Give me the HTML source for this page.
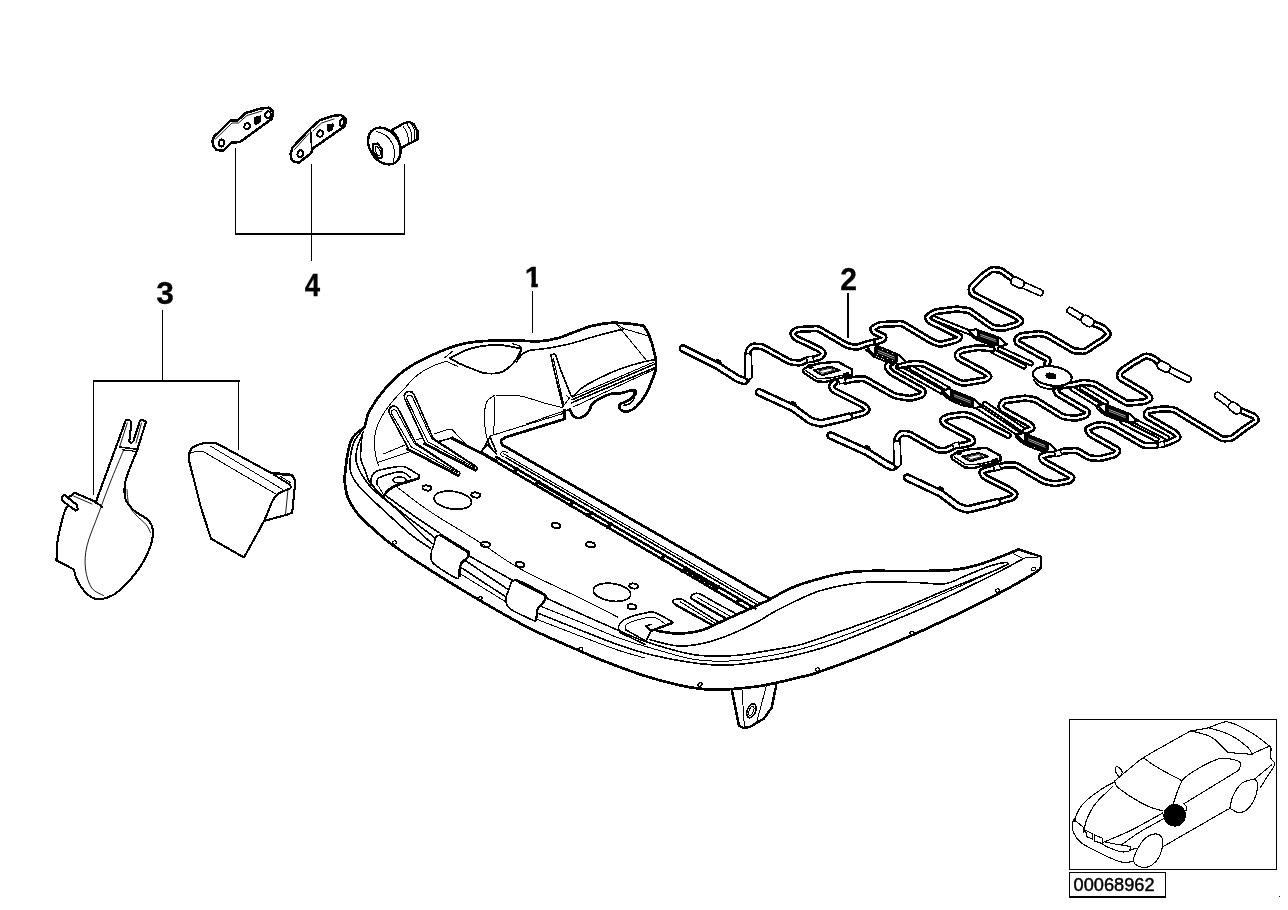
<!DOCTYPE html>
<html lang="en"><head><meta charset="utf-8"><title>Seat frame parts diagram 00068962</title>
<style>
html,body{margin:0;padding:0;background:#fff;}
body{width:1288px;height:910px;overflow:hidden;font-family:"Liberation Sans",Arial,sans-serif;}
svg{display:block;position:absolute;left:0;top:0;filter:grayscale(1);}
svg path,svg ellipse,svg circle,svg rect,svg line{stroke:#000;fill:none;stroke-linejoin:round;stroke-linecap:round;}
svg text{font-family:"Liberation Sans",Arial,sans-serif;}
</style></head><body>
<svg width="1288" height="910" viewBox="0 0 1288 910" shape-rendering="crispEdges">
<rect x="0" y="0" width="1288" height="910" style="fill:#fff;stroke:none"/>
<path d="M344.4 480 C344.8 476.3 345.9 464.3 347 457.6 C348.1 450.9 349.6 444.1 351.3 440 C353 435.9 354.8 435.2 357 433 C359.2 430.8 362.8 429.2 364.4 427 C365.9 424.8 365.4 422.8 366.3 420 C367.2 417.2 367.1 415 370 410 C372.9 405 378.2 396.7 384 390 C389.8 383.3 397.3 375.7 405 370 C412.7 364.3 420.8 360.2 430 356 C439.2 351.8 450.8 347 460 344.5 C469.2 342 475 341.6 485 341 C495 340.4 511 340.6 520 340.7 C529 340.8 532.5 341.7 538.8 341.3 C545.1 340.9 551.3 339.9 557.6 338.2 C563.9 336.5 570.5 333.4 576.4 331.3 C582.2 329.2 586.9 327.1 592.7 325.7 C598.6 324.3 605.2 323.1 611.5 322.8 C617.8 322.5 625 323.3 630.3 323.8 C635.6 324.3 641.2 325.4 643.4 325.7" stroke-width="2.7" style="fill:none"/>
<path d="M643.4 325.7 C644.3 327.2 647.1 330.3 649 335 C650.9 339.7 653.5 348.5 654.7 353.9 C655.9 359.3 656.5 363 656 367.6 C655.5 372.2 653.4 376.8 651.6 381.4 C649.8 386 647.8 391 645.3 395.2 C642.8 399.4 639.4 403.8 636.5 406.5 C633.6 409.2 630.4 410.9 627.8 411.5 C625.2 412.1 622.1 411 620.8 409.8 C619.5 408.6 618.6 406 619.8 404.5 C621 403 625.5 402.2 627.8 400.9 C630.1 399.6 632 398 633.4 396.5 C634.8 395 636.1 393.1 635.9 392 C635.7 390.9 634.8 390 632.2 390.2 C629.6 390.4 624 392.7 620.3 393.3 C616.6 393.9 613.6 393.1 610.2 394 C606.8 394.9 602.9 396.9 600 398.5 C597.1 400.1 594.8 401 592.7 403.4 C590.7 405.8 589.8 410.4 587.7 412.8 C585.6 415.2 582.5 417.2 580.2 417.8 C577.9 418.4 575.6 417.8 573.9 416.5 C572.2 415.2 570.7 411.3 570.1 410.3" stroke-width="2.7" style="fill:none"/>
<path d="M623.5 405.5 C624.6 405.2 628.2 404.8 630 403.5 C631.8 402.2 633.6 399.8 634.3 398 C635 396.2 634 393.8 634 393" stroke-width="1.6" style="fill:none"/>
<path d="M344.4 480 C344.8 482.5 345.9 491 347 495 C348.1 499 348.8 500.4 351 504 C353.2 507.6 355.4 511.5 360 516.5 C364.6 521.5 373.5 529.2 378.9 534 C384.3 538.8 384 539 392.5 545 C401 551 415.4 560.8 430 570 C444.6 579.2 463.3 590.8 480 600.5 C496.7 610.2 513.3 620.1 530 628.5 C546.7 636.9 568.3 645.8 580 651 C591.7 656.2 588.9 655.2 600 659.5 C611.1 663.8 631.7 671.9 646.8 676.5 C661.9 681.1 678.5 685.2 690.5 687.4 C702.5 689.6 707.7 689.8 718.6 689.7 C729.5 689.6 746.2 687.8 756 686.6 C765.8 685.4 770 684.1 777.5 682.5 C785 680.9 794.3 678.7 801 677 C807.7 675.3 806.8 676.2 817.5 672.5 C828.2 668.8 849.2 661.2 865 655 C880.8 648.8 897.9 641.4 912.5 635 C927.1 628.6 944.1 620.4 952.5 616.5 C960.9 612.6 955.2 615.2 962.7 611.5 C970.2 607.8 985.8 600.3 997.7 594 C1009.6 587.7 1026.8 577.9 1034 573.5 C1041.2 569.1 1039.8 568.6 1041 567.6" stroke-width="2.7" style="fill:none"/>
<path d="M1041 567.6 L1041 556.6 1018.4 549.4" stroke-width="2.4" style="fill:none"/>
<path d="M1013.4 553.8 L1022.2 558.2 1040.5 556.8" stroke-width="1" style="fill:none"/>
<path d="M657.5 631 C660.9 631.4 670.7 633.6 678 633.5 C685.3 633.4 693.6 632.6 701.4 630.4 C709.2 628.1 715.7 624.1 724.8 620 C733.9 615.9 748.5 609.5 756 606 C763.5 602.5 765.2 601.8 770 599.3 C774.8 596.8 779.6 593.6 785 591 C790.4 588.4 793.3 586.6 802.5 583.7 C811.7 580.8 829.6 575.8 840 573.7 C850.4 571.6 852.5 571.5 865 571 C877.5 570.5 900.4 571.2 915 571 C929.6 570.8 942.1 571 952.5 570 C962.9 569 969.2 567.3 977.5 565 C985.8 562.7 995.7 558.6 1002.5 556 C1009.3 553.4 1015.8 550.5 1018.4 549.4" stroke-width="2.7" style="fill:none"/>
<path d="M650 639.8 C654.7 640.8 669.4 645.4 678 646 C686.6 646.6 693.6 645.2 701.4 643.7 C709.2 642.2 715.7 640.2 724.8 636.7 C733.9 633.2 747.2 627.1 756 622.6 C764.8 618.1 767.7 615 777.5 610 C787.3 605 803.8 596.7 815 592.5 C826.2 588.3 835.8 586.8 845 585 C854.2 583.2 858.3 582.4 870 582 C881.7 581.6 902.5 582.2 915 582.5 C927.5 582.8 936.7 584.8 945 583.7 C953.3 582.6 957.5 579 965 576 C972.5 573 983.3 568.2 990 566 C996.7 563.8 1001.9 562.9 1005 562.5 C1008.1 562.1 1008.1 563.5 1008.7 563.7" stroke-width="1.6" style="fill:none"/>
<path d="M545 597.5 C550.8 600.2 567.9 608.1 580 613.5 C592.1 618.9 606.4 625.2 617.5 630 C628.6 634.8 634.1 637.9 646.8 642 C659.5 646.1 678.9 652.4 693.6 654.6 C708.3 656.9 722 656.3 735 655.5 C748 654.7 760.7 651.8 771.7 650 C782.7 648.2 790.5 647.3 801 644.5 C811.5 641.7 820.2 638.1 835 633 C849.8 627.9 872.5 620.5 890 613.7 C907.5 607 923.3 599.4 940 592.5 C956.7 585.6 978.5 577.3 990 572.5 C1001.5 567.7 1005.6 565.3 1008.7 563.9" stroke-width="1.6" style="fill:none"/>
<path d="M540 606 C546.7 608.7 567.1 616.8 580 622 C592.9 627.2 606.4 633.4 617.5 637.5 C628.6 641.6 634.1 643.2 646.8 646.8 C659.5 650.4 679.3 656.9 693.6 659.3 C707.9 661.6 719.6 661.5 732.6 660.9 C745.6 660.2 760.3 657.4 771.7 655.4 C783.1 653.4 790.5 651.8 801 649 C811.5 646.2 824.3 642.3 835 638.7 C845.7 635.1 851.7 633 865 627.5 C878.3 622 898.3 613.2 915 606 C931.7 598.8 950.2 590.6 965 584 C979.8 577.4 997.5 569.4 1004 566.5" stroke-width="1" style="fill:none"/>
<path d="M537.5 613 C544.6 615.8 566.7 624.8 580 630 C593.3 635.2 605.5 640.3 617.5 644.5 C629.5 648.7 638.2 651.8 652 655 C665.8 658.2 686.6 662.1 700 663.7 C713.4 665.3 720.6 665.4 732.6 664.8 C744.6 664.2 760.3 661.8 771.7 660 C783.1 658.2 790.5 656.5 801 653.8 C811.5 651.1 820.2 649 835 643.7 C849.8 638.4 872.5 629.2 890 622 C907.5 614.8 922.1 608.8 940 600.5 C957.9 592.2 983.5 579.5 997.5 572.5 C1011.5 565.5 1019.6 560.6 1024 558.2" stroke-width="1.6" style="fill:none"/>
<path d="M536 619 C543.3 621.8 566.4 630.8 580 636 C593.6 641.2 606.7 646.3 617.5 650 C628.3 653.7 640.4 656.7 645 658" stroke-width="1" style="fill:none"/>
<path d="M731.9 690.5 L738.9 725.6 743.6 728 749.8 727 763.9 718.6 771.7 707.7 776.3 685" stroke-width="2.5" style="fill:none"/>
<path d="M742 689.7 L744.4 727" stroke-width="1" style="fill:none"/>
<path d="M766.2 686.6 L756.8 721.7" stroke-width="1" style="fill:none"/>
<ellipse cx="751.4" cy="710.8" rx="4.2" ry="7.3" transform="rotate(22 751.4 710.8)" stroke-width="1.6" style="fill:none"/>
<ellipse cx="751.2" cy="711" rx="2.2" ry="4.8" transform="rotate(22 751.2 711)" stroke-width="1" style="fill:none"/>
<ellipse cx="394.5" cy="542.5" rx="2.2" ry="1.6" transform="rotate(-15 394.5 542.5)" stroke-width="1.2" style="fill:none"/>
<ellipse cx="480" cy="598.5" rx="2.2" ry="1.6" transform="rotate(-15 480 598.5)" stroke-width="1.2" style="fill:none"/>
<ellipse cx="580.7" cy="649.3" rx="2.2" ry="1.6" transform="rotate(-15 580.7 649.3)" stroke-width="1.2" style="fill:none"/>
<ellipse cx="700" cy="684.5" rx="2.2" ry="1.6" transform="rotate(-15 700 684.5)" stroke-width="1.2" style="fill:none"/>
<ellipse cx="817.5" cy="669.5" rx="2.2" ry="1.6" transform="rotate(-15 817.5 669.5)" stroke-width="1.2" style="fill:none"/>
<ellipse cx="912" cy="633" rx="2.2" ry="1.6" transform="rotate(-15 912 633)" stroke-width="1.2" style="fill:none"/>
<ellipse cx="997.5" cy="590.5" rx="2.2" ry="1.6" transform="rotate(-15 997.5 590.5)" stroke-width="1.2" style="fill:none"/>
<ellipse cx="1033.5" cy="569" rx="2.2" ry="1.6" transform="rotate(-15 1033.5 569)" stroke-width="1.2" style="fill:none"/>
<path d="M564.5 410.3 L564.5 419 505 437.5" stroke-width="2.7" style="fill:none"/>
<path d="M505 437.5 C504.3 438.1 501.4 439.8 501 441 C500.6 442.2 502.2 444.3 502.5 445" stroke-width="2.7" style="fill:none"/>
<path d="M502.5 445 L770 598.9" stroke-width="2.7" style="fill:none"/>
<path d="M490 436 L562.5 413.7" stroke-width="1" style="fill:none"/>
<path d="M526 424 L562.6 411.5" stroke-width="1" style="fill:none"/>
<path d="M570 409 L563 412" stroke-width="1.6" style="fill:none"/>
<path d="M503.8 457 C503.2 456.6 500.6 455.4 500.5 454.5 C500.4 453.6 501.8 451.8 503 451.5 C504.2 451.2 507.2 452.3 508 452.5" stroke-width="1" style="fill:none"/>
<path d="M503.8 453.8 L760.3 603.3" stroke-width="1" style="fill:none"/>
<path d="M506 457.7 L757.8 605" stroke-width="1.6" style="fill:none"/>
<path d="M496.3 457 L755.3 608.4" stroke-width="2.6" style="fill:none"/>
<path d="M480 452.3 L747.8 609.5" stroke-width="2.6" style="fill:none"/>
<path d="M513.8 472.2 L517.3 469.3" stroke-width="3.6" style="fill:none"/>
<path d="M535 484.6 L538.5 481.7" stroke-width="3.6" style="fill:none"/>
<path d="M570 505.1 L573.5 502.1" stroke-width="3.6" style="fill:none"/>
<path d="M587.8 515.6 L591.3 512.5" stroke-width="3.6" style="fill:none"/>
<path d="M607.8 527.3 L611.3 524.2" stroke-width="3.6" style="fill:none"/>
<path d="M661.3 558.7 L664.8 555.5" stroke-width="3.6" style="fill:none"/>
<path d="M682.6 571.2 L686.1 568" stroke-width="3.6" style="fill:none"/>
<path d="M715 590.3 L718.5 586.9" stroke-width="3.6" style="fill:none"/>
<path d="M736.5 602.9 L740 599.5" stroke-width="3.6" style="fill:none"/>
<path d="M684 569.1 L715 587.2" stroke-width="2.2" style="fill:none"/>
<path d="M537 482.7 L568 500.8" stroke-width="1" style="fill:none"/>
<path d="M530 350.2 C533 349.9 541.1 349.3 547.8 348.2 C554.5 347.1 562.1 345.8 570 343.8 C577.9 341.8 586.2 338.8 595.2 336.3 C604.2 333.8 619.2 330.1 624 328.8" stroke-width="1.6" style="fill:none"/>
<path d="M624 328.8 L616.5 323.8" stroke-width="1" style="fill:none"/>
<path d="M624 328.8 L647.8 335.7" stroke-width="1" style="fill:none"/>
<path d="M616.5 323.8 L647.8 362" stroke-width="1" style="fill:none"/>
<path d="M572.6 396.5 C574.2 395.1 578.2 390.7 582 388 C585.8 385.3 588.8 383.4 595.2 380.2 C601.6 377 611.9 372 620.3 368.9 C628.6 365.8 639.6 362.9 645.3 361.4 C651 359.9 653.1 360.2 654.7 360" stroke-width="1.6" style="fill:none"/>
<path d="M572 397.3 L654 362" stroke-width="1" style="fill:none"/>
<path d="M572 399.8 L654.7 364" stroke-width="1.6" style="fill:none"/>
<path d="M571.4 402.9 L656 367.2" stroke-width="1.6" style="fill:none"/>
<path d="M573.9 406.7 L654 369.5" stroke-width="1" style="fill:none"/>
<path d="M563 406.5 C561.8 401.8 558 386.2 556 378 C554 369.8 551.9 360.9 551.3 357 C550.7 353.1 551.8 354.9 552.5 354.6 C553.2 354.3 554.2 352.8 555.5 355 C556.8 357.2 557.4 361.1 560 368 C562.6 374.9 569.5 391.8 571.4 396.5" stroke-width="1.6" style="fill:none"/>
<path d="M553.2 358 L563.9 405.2" stroke-width="1" style="fill:none"/>
<path d="M562.6 407 L569.5 397.7 566.4 395.8" stroke-width="1" style="fill:none"/>
<path d="M495 395 C493.6 396.2 488.2 398.3 486.5 402.5 C484.8 406.7 484.3 413.8 484.5 420 C484.7 426.2 485.8 434.6 487.5 440 C489.2 445.4 493.8 450.4 495 452.5" stroke-width="1" style="fill:none"/>
<path d="M495 395 C499.2 395.2 512.1 394.8 520 396 C527.9 397.2 535.4 400.6 542.5 402.5 C549.6 404.4 559.2 406.8 562.6 407.7" stroke-width="1" style="fill:none"/>
<path d="M495 397.5 L493.7 435" stroke-width="1" style="fill:none"/>
<path d="M483 449 L490 437 496 451" stroke-width="1.6" style="fill:none"/>
<path d="M450 358.2 C452.7 356.8 460.5 352.1 466.3 350 C472.1 347.9 479.4 346.5 485 345.7 C490.6 344.9 495.4 344.8 500 345 C504.6 345.2 509.4 346.4 512.7 347 C516 347.6 518.6 347.8 520 348.4 C521.4 349 521.4 348.8 520.8 350.5 C520.2 352.2 518.3 356.2 516.5 358.8 C514.7 361.4 512.8 364.1 510 366.4 C507.2 368.7 504.2 371.5 500 372.6 C495.8 373.7 489.6 373.8 485 373.2 C480.4 372.6 476.8 370.5 472.6 368.9 C468.4 367.3 463.8 365.6 460 363.8 C456.2 362 451.7 359.1 450 358.2" stroke-width="1.8" style="fill:none"/>
<path d="M512.7 343.8 C513.9 344.2 518.5 345.3 520 346.3 C521.5 347.3 521.9 348 521.8 349.6 C521.7 351.2 520.4 353.8 519.5 356 C518.6 358.2 517 361.5 516.5 362.6" stroke-width="1" style="fill:none"/>
<path d="M516.5 362 C517.5 360.6 520.5 355.8 522.7 353.8 C525 351.8 528.8 350.8 530 350.2" stroke-width="1.6" style="fill:none"/>
<path d="M445 357.6 L452.5 351.3" stroke-width="1" style="fill:none"/>
<path d="M446.3 361.3 L457.5 366.3" stroke-width="1" style="fill:none"/>
<path d="M446.5 361.3 C444.4 362 438 363.8 434 365.5 C430 367.2 426.2 369.1 422.7 371.4 C419.2 373.6 416.1 376.1 413 379 C409.9 381.9 407 385.8 404 389 C401 392.2 397.7 395.4 395 398.5 C392.3 401.6 389.8 404.8 387.6 407.7 C385.4 410.6 383.7 413.1 382 416 C380.3 418.9 378.8 421.8 377.6 425 C376.4 428.2 375.5 431.8 375 435 C374.5 438.2 374.4 440.7 374.5 444 C374.6 447.3 374.8 451.3 375.5 455 C376.2 458.7 378 464.2 378.5 466" stroke-width="1" style="fill:none"/>
<path d="M362 430.6 C360.6 432.6 355.8 437.4 353.8 442.5 C351.8 447.6 350.4 456.1 350 461.4 C349.6 466.6 349.6 469.6 351.3 474 C353 478.4 354.4 481.4 360 487.7 C365.6 493.9 376.7 503.8 385 511.5 C393.3 519.2 402.5 527.9 410 534 C417.5 540.1 426.7 545.7 430 548" stroke-width="1.6" style="fill:none"/>
<path d="M363.2 432 C362.2 434.8 358.1 443.9 357 448.8 C355.9 453.7 355.6 457.2 356.3 461.4 C357 465.6 358.6 469.4 361.3 474 C364 478.6 366.5 483 372.6 489 C378.7 495 389.6 502.7 397.7 510.2 C405.8 517.7 415.8 528.5 421.5 534 C427.2 539.5 430.2 541.9 432 543.5" stroke-width="1.6" style="fill:none"/>
<path d="M362 435 C361.8 438.8 360.2 451.8 360.7 457.6 C361.2 463.4 363.4 465.8 365 470 C366.6 474.2 366.9 478.1 370 482.7 C373.1 487.3 377.2 491.6 383.9 497.7 C390.6 503.8 402.3 513 410 519 C417.7 525 425.8 530.8 430 534 C434.2 537.2 434.2 537.8 435 538.5" stroke-width="1.6" style="fill:none"/>
<path d="M385 495 C389.6 498.3 403.7 508.7 412.7 515 C421.7 521.3 434.6 529.8 439 532.8" stroke-width="1.6" style="fill:none"/>
<path d="M377.6 462.6 L409 452" stroke-width="1" style="fill:none"/>
<path d="M383.9 453.8 L405 445" stroke-width="1" style="fill:none"/>
<path d="M414 394.4 L433.1 438.3 476.3 466.6 477 467.4 477.2 468.6 476.6 469.6 475.5 470.1 474.3 469.8 425.9 444.7 404.6 398.6 404.2 395.4 405.8 392.6 408.7 391.3 411.9 392 Z" stroke-width="1.6" style="fill:#fff"/>
<path d="M412.3 396.7 L431.6 438.6 474.3 466.1 474.6 466.4 474.6 466.7 474.4 467.1 474.1 467.2 473.7 467.1 428 441.8 406.9 399.3 406.6 397.5 407.5 395.8 409.2 395 411 395.4 Z" stroke-width="1" style="fill:none"/>
<path d="M424.6 443.8 L475.5 470.2" stroke-width="2.7" style="fill:none"/>
<path d="M398.2 408.7 L415.9 443.3 459 471.8 459.7 472.6 459.9 473.8 459.3 474.8 458.2 475.3 457 475 409.1 449.7 389.4 413.3 388.9 410.3 390.2 407.5 393 406.1 396 406.5 Z" stroke-width="1.6" style="fill:#fff"/>
<path d="M396.5 411.1 L414.4 443.6 457.1 471.3 457.4 471.6 457.4 471.9 457.2 472.3 456.9 472.4 456.5 472.3 411.2 446.8 391.7 413.9 391.3 412.2 392 410.6 393.5 409.8 395.2 409.9 Z" stroke-width="1" style="fill:none"/>
<path d="M407.5 449 L458 475.4" stroke-width="2.7" style="fill:none"/>
<path d="M416.4 440 L422.5 438" stroke-width="1" style="fill:none"/>
<path d="M434 434 L447.5 429.5 452.5 430 466 444.3" stroke-width="1" style="fill:none"/>
<path d="M438.9 441.4 L451.5 438" stroke-width="1.6" style="fill:none"/>
<path d="M451.5 438 L497 461" stroke-width="2.7" style="fill:none"/>
<path d="M452.5 437 L466 444.3" stroke-width="1" style="fill:none"/>
<path d="M371.3 484 C371.3 482.9 370.5 479.7 371.3 477.6 C372.1 475.5 372.4 473.2 376.4 471.4 C380.3 469.6 390.2 467.7 395 467 C399.8 466.3 401 465.7 405 467 C409 468.3 416.7 473.7 419 475" stroke-width="1.6" style="fill:none"/>
<path d="M377 484 C377.1 483.2 376.8 480.2 377.6 479 C378.4 477.8 378.6 477.7 382 476.5 C385.4 475.3 394 472.6 397.7 472 C401.4 471.4 401.9 471.8 404 472.6 C406.1 473.4 409 476.3 410 477" stroke-width="1.6" style="fill:none"/>
<path d="M419 475 L419 478.3" stroke-width="1.6" style="fill:none"/>
<path d="M419 478.3 C415.4 479.4 402.5 483.2 397.7 485 C392.9 486.8 392.1 487.5 390 489 C387.9 490.5 385.8 493.2 385 494" stroke-width="2.7" style="fill:none"/>
<path d="M377 484 L384.5 496.4" stroke-width="1" style="fill:none"/>
<path d="M371.3 484 L383.9 498.3" stroke-width="1.6" style="fill:none"/>
<ellipse cx="399.5" cy="480" rx="6.6" ry="3.1" transform="rotate(0 399.5 480)" stroke-width="1.4" style="fill:#fff"/>
<path d="M480.9 451.4 L487.8 444.5 490.3 447.7 496.6 454" stroke-width="1.6" style="fill:none"/>
<path d="M480.9 451.4 L497 461" stroke-width="1.6" style="fill:none"/>
<ellipse cx="452.8" cy="500.2" rx="18.8" ry="8.8" transform="rotate(8 452.8 500.2)" stroke-width="1.7" style="fill:#fff"/>
<ellipse cx="427" cy="488" rx="4.5" ry="2.5" transform="rotate(8 427 488)" stroke-width="1.9" style="fill:#fff"/>
<ellipse cx="475.8" cy="495" rx="4.5" ry="2.5" transform="rotate(8 475.8 495)" stroke-width="1.9" style="fill:#fff"/>
<ellipse cx="556" cy="525.5" rx="4.5" ry="2.5" transform="rotate(8 556 525.5)" stroke-width="1.9" style="fill:#fff"/>
<ellipse cx="590.5" cy="544.7" rx="4.5" ry="2.5" transform="rotate(8 590.5 544.7)" stroke-width="1.9" style="fill:#fff"/>
<ellipse cx="485.5" cy="544.5" rx="4.5" ry="2.5" transform="rotate(8 485.5 544.5)" stroke-width="1.9" style="fill:#fff"/>
<ellipse cx="520" cy="564.5" rx="4.5" ry="2.5" transform="rotate(8 520 564.5)" stroke-width="1.9" style="fill:#fff"/>
<ellipse cx="612" cy="592.3" rx="18.8" ry="8.8" transform="rotate(8 612 592.3)" stroke-width="1.7" style="fill:#fff"/>
<ellipse cx="633.7" cy="586" rx="4.5" ry="2.5" transform="rotate(8 633.7 586)" stroke-width="1.9" style="fill:#fff"/>
<ellipse cx="632" cy="606.7" rx="4.5" ry="2.5" transform="rotate(8 632 606.7)" stroke-width="1.9" style="fill:#fff"/>
<path d="M397.7 487.7 C401.9 490.8 415.6 501.4 422.7 506.5 C429.8 511.6 430.4 512 440 518 C449.6 524 466.7 534 480 542.5 C493.3 551 503.3 559.5 520 568.7 C536.7 578 563.8 590 580 598 C596.2 606 611.2 613.8 617.5 617" stroke-width="1" style="fill:none"/>
<path d="M440 535.5 C445.6 536.8 463 548.8 467.5 552.5 C472 556.2 468.2 555.2 467 557.5 C465.8 559.8 461.4 562.9 460 566 C458.6 569.1 459.5 574.1 458.7 576 C457.9 577.9 459.2 579.5 455 577.5 C450.8 575.5 437.7 567.5 433.7 563.7 C429.7 560 431 558.1 431 555 C431 551.9 432.2 548.2 433.7 545 C435.2 541.8 434.4 534.2 440 535.5 Z" stroke-width="1.6" style="fill:none"/>
<path d="M440.7 535 L468.2 552" stroke-width="3" style="fill:none"/>
<path d="M468.2 552 C468.2 552.8 469.3 555.2 468.2 557 C467.1 558.8 462.8 560.4 461.4 562.6 C460 564.8 460.3 567.7 460 570 C459.7 572.3 459.6 575.3 459.5 576.4" stroke-width="2.2" style="fill:none"/>
<path d="M516 580 C522 580.8 540.4 591.5 545 595 C549.6 598.5 545 598.5 543.7 601 C542.5 603.5 538.8 606.8 537.5 610 C536.2 613.2 536.8 618.3 536 620 C535.2 621.7 536.8 621.9 532.5 620 C528.2 618.1 514.4 612 510 608.7 C505.6 605.4 506.2 603.1 506 600 C505.8 596.9 507 593.3 508.7 590 C510.4 586.7 509.9 579.2 516 580 Z" stroke-width="1.6" style="fill:none"/>
<path d="M516 580 L545 595" stroke-width="3" style="fill:none"/>
<path d="M545 595 C544.9 596 545.7 598.8 544.5 601 C543.3 603.2 539.2 605.8 538 608 C536.8 610.2 537.3 612 537 614 C536.7 616 536.2 619 536 620" stroke-width="2.2" style="fill:none"/>
<path d="M467.5 555 L513.7 581" stroke-width="1.6" style="fill:none"/>
<path d="M466 561 L508 589.5" stroke-width="1.6" style="fill:none"/>
<path d="M461 567.5 L506 597" stroke-width="1.6" style="fill:none"/>
<path d="M459 573 L506 602" stroke-width="1" style="fill:none"/>
<path d="M620 632.5 C619.8 631.4 617.7 628.3 618.7 626 C619.7 623.7 621.2 621 626 618.7 C630.8 616.5 642.5 613.5 647.5 612.5 C652.5 611.5 651.8 611.4 656 613 C660.2 614.6 669.8 620.5 672.5 622" stroke-width="1.6" style="fill:none"/>
<path d="M626 630 C626.2 629 623.9 625.8 627.5 623.7 C631.1 621.6 642.8 618.5 647.5 617.5 C652.2 616.5 653.1 617 656 618 C658.9 619 663.5 622.8 665 623.7" stroke-width="1" style="fill:none"/>
<path d="M672.5 622.8 L651 631" stroke-width="2.5" style="fill:none"/>
<path d="M626 630 L646 641 651 631 646 626 651 624.5" stroke-width="1.6" style="fill:none"/>
<path d="M620 632.5 L645 644.5" stroke-width="1.6" style="fill:none"/>
<path d="M717.7 621.5 C714.8 619.7 705.9 614.1 700 610.5 C694.1 606.9 686.6 601.5 682.6 599.6 C678.6 597.7 677.6 599.1 676 599.3 C674.4 599.5 673.4 600 673.2 600.8 C673 601.6 671.7 601.6 675 604 C678.3 606.4 686.7 611.5 693 615 C699.3 618.5 709.4 623.6 712.7 625.3" stroke-width="1.6" style="fill:none"/>
<path d="M676.3 605.2 L712.7 625.3" stroke-width="2.4" style="fill:none"/>
<path d="M680.5 602 L715 623.2" stroke-width="1" style="fill:none"/>
<path d="M736.5 614 C733.4 612.3 724.1 607.3 718 604 C711.9 600.7 704 595.7 700 594 C696 592.3 695.4 593.7 694 594 C692.6 594.3 691.6 594.9 691.4 595.8 C691.1 596.7 689.4 597.2 692.5 599.5 C695.6 601.8 704.3 606.2 710 609.5 C715.7 612.8 723.8 617.4 726.5 619" stroke-width="1.6" style="fill:none"/>
<path d="M694 600.2 L726.5 619" stroke-width="2.4" style="fill:none"/>
<path d="M697 597.5 L731 616.6" stroke-width="1" style="fill:none"/>
<path d="M992.6 351 L1024 366.5" stroke-width="6" stroke-linecap="round"/>
<path d="M992.6 351 L1024 366.5" stroke-width="2" stroke-linecap="round" style="stroke:#fff"/>
<path d="M1000 349 L1031 363.5" stroke-width="6" stroke-linecap="round"/>
<path d="M1000 349 L1031 363.5" stroke-width="2" stroke-linecap="round" style="stroke:#fff"/>
<path d="M898 367 L942 392" stroke-width="6" stroke-linecap="round"/>
<path d="M898 367 L942 392" stroke-width="2" stroke-linecap="round" style="stroke:#fff"/>
<path d="M905 364 L948 389" stroke-width="6" stroke-linecap="round"/>
<path d="M905 364 L948 389" stroke-width="2" stroke-linecap="round" style="stroke:#fff"/>
<path d="M978 407 L1018 433.5" stroke-width="6" stroke-linecap="round"/>
<path d="M978 407 L1018 433.5" stroke-width="2" stroke-linecap="round" style="stroke:#fff"/>
<path d="M985 404 L1024 430.4" stroke-width="6" stroke-linecap="round"/>
<path d="M985 404 L1024 430.4" stroke-width="2" stroke-linecap="round" style="stroke:#fff"/>
<path d="M1072.4 388.7 L1100.4 406" stroke-width="6" stroke-linecap="round"/>
<path d="M1072.4 388.7 L1100.4 406" stroke-width="2" stroke-linecap="round" style="stroke:#fff"/>
<path d="M1081.8 387.7 L1106 402.5" stroke-width="6" stroke-linecap="round"/>
<path d="M1081.8 387.7 L1106 402.5" stroke-width="2" stroke-linecap="round" style="stroke:#fff"/>
<path d="M1122.4 422 L1156.7 439.5" stroke-width="6" stroke-linecap="round"/>
<path d="M1122.4 422 L1156.7 439.5" stroke-width="2" stroke-linecap="round" style="stroke:#fff"/>
<path d="M1133 420 L1167 437.7" stroke-width="6" stroke-linecap="round"/>
<path d="M1133 420 L1167 437.7" stroke-width="2" stroke-linecap="round" style="stroke:#fff"/>
<path d="M683 348.5 L715.9 365 Q718 366 719.9 367.3 L736.1 377.7 Q738 379 740.2 379.6 L743.3 380.6 Q745.5 381.2 746.9 379.3 L747.2 378.9 Q748.6 377 748.5 374.7 L748.1 353.3 Q748 351 749.4 349.2 L750.6 347.8 Q752 346 754.3 346.1 L759.7 346.4 Q762 346.5 764 347.6 L788 360.9 Q790 362 792.3 362.3 L797.7 362.9 Q800 363.2 802.1 362.2 L808 359.5" stroke-width="7.4" stroke-linecap="round"/>
<path d="M683 348.5 L715.9 365 Q718 366 719.9 367.3 L736.1 377.7 Q738 379 740.2 379.6 L743.3 380.6 Q745.5 381.2 746.9 379.3 L747.2 378.9 Q748.6 377 748.5 374.7 L748.1 353.3 Q748 351 749.4 349.2 L750.6 347.8 Q752 346 754.3 346.1 L759.7 346.4 Q762 346.5 764 347.6 L788 360.9 Q790 362 792.3 362.3 L797.7 362.9 Q800 363.2 802.1 362.2 L808 359.5" stroke-width="2.3" stroke-linecap="round" style="stroke:#fff"/>
<path d="M812 359.5 L818.8 357.6 Q821 357 822.3 355.1 L822.5 354.9 Q823.8 353 822.1 351.4 L821.7 351.1 Q820 349.5 817.9 348.5 L796.6 338.5 Q794.5 337.5 793.6 335.4 L793.4 335.1 Q792.5 333 794.3 331.6 L795.2 330.9 Q797 329.5 799.3 329.4 L815.7 328.6 Q818 328.5 820 329.7 L845 344.3 Q847 345.5 849.2 346 L853.8 347 Q856 347.5 858.2 346.8 L865.8 344.2 Q868 343.5 870.2 342.9 L876 341.5" stroke-width="7.4" stroke-linecap="round"/>
<path d="M812 359.5 L818.8 357.6 Q821 357 822.3 355.1 L822.5 354.9 Q823.8 353 822.1 351.4 L821.7 351.1 Q820 349.5 817.9 348.5 L796.6 338.5 Q794.5 337.5 793.6 335.4 L793.4 335.1 Q792.5 333 794.3 331.6 L795.2 330.9 Q797 329.5 799.3 329.4 L815.7 328.6 Q818 328.5 820 329.7 L845 344.3 Q847 345.5 849.2 346 L853.8 347 Q856 347.5 858.2 346.8 L865.8 344.2 Q868 343.5 870.2 342.9 L876 341.5" stroke-width="2.3" stroke-linecap="round" style="stroke:#fff"/>
<path d="M877 341.5 L882 339.9 Q883.5 339.5 883.8 338 L883.8 338 Q884 336.5 882.6 335.9 L875.8 332.8 Q874 332 873.2 330.1 L873.2 330.1 Q872.5 328.3 874.3 327.4 L877.9 325.5 Q880 324.5 882.3 324.4 L899.7 323.6 Q902 323.5 904 324.7 L930 340.3 Q932 341.5 934.2 342.3 L937.8 343.7 Q940 344.5 942.2 343.9 L954.8 340.6 Q957 340 958.6 338.4 L958.9 338.1 Q960.5 336.5 958.4 335.5 L931 322 Q929 321 928 319 L928 319 Q927 317 928.9 315.8 L933.1 313.1 Q935 311.8 937.3 311.5 L954.7 309.3 Q957 309 959.3 309.3 L966.7 310.2 Q969 310.5 970.9 311.8 L991.1 326.2 Q993 327.5 995.3 327.7 L1000.7 328.3 Q1003 328.5 1005.2 327.9 L1014.8 325.1 Q1017 324.5 1018.8 323.1 L1019.7 322.4 Q1021.5 321 1019.7 319.5 L1017.8 318 Q1016 316.5 1014 315.4 L973.5 294.6 Q971.5 293.5 971.3 291.2 L971.2 289.8 Q971 287.5 972.6 285.9 L980.9 277.6 Q982.5 276 984.4 274.7 L990.1 270.6 Q992 269.3 994.3 269.6 L998.7 270 Q1001 270.3 1002.8 271.7 L1017.5 282.5" stroke-width="7.4" stroke-linecap="round"/>
<path d="M877 341.5 L882 339.9 Q883.5 339.5 883.8 338 L883.8 338 Q884 336.5 882.6 335.9 L875.8 332.8 Q874 332 873.2 330.1 L873.2 330.1 Q872.5 328.3 874.3 327.4 L877.9 325.5 Q880 324.5 882.3 324.4 L899.7 323.6 Q902 323.5 904 324.7 L930 340.3 Q932 341.5 934.2 342.3 L937.8 343.7 Q940 344.5 942.2 343.9 L954.8 340.6 Q957 340 958.6 338.4 L958.9 338.1 Q960.5 336.5 958.4 335.5 L931 322 Q929 321 928 319 L928 319 Q927 317 928.9 315.8 L933.1 313.1 Q935 311.8 937.3 311.5 L954.7 309.3 Q957 309 959.3 309.3 L966.7 310.2 Q969 310.5 970.9 311.8 L991.1 326.2 Q993 327.5 995.3 327.7 L1000.7 328.3 Q1003 328.5 1005.2 327.9 L1014.8 325.1 Q1017 324.5 1018.8 323.1 L1019.7 322.4 Q1021.5 321 1019.7 319.5 L1017.8 318 Q1016 316.5 1014 315.4 L973.5 294.6 Q971.5 293.5 971.3 291.2 L971.2 289.8 Q971 287.5 972.6 285.9 L980.9 277.6 Q982.5 276 984.4 274.7 L990.1 270.6 Q992 269.3 994.3 269.6 L998.7 270 Q1001 270.3 1002.8 271.7 L1017.5 282.5" stroke-width="2.3" stroke-linecap="round" style="stroke:#fff"/>
<path d="M1017.5 282.5 L1040 292.5" stroke-width="7.8" stroke-linecap="round"/>
<path d="M1017.5 282.5 L1040 292.5" stroke-width="4.6" stroke-linecap="round" style="stroke:#fff"/>
<path d="M985 338 L972.9 333.7 Q971 333 969.1 332.3 L933.5 318" stroke-width="6" stroke-linecap="round"/>
<path d="M985 338 L972.9 333.7 Q971 333 969.1 332.3 L933.5 318" stroke-width="2" stroke-linecap="round" style="stroke:#fff"/>
<path d="M759 392.2 L790.9 407 Q793 408 794.9 409.3 L809.1 419.7 Q811 421 813.2 421.6 L818.8 422.9 Q821 423.5 823.2 423 L847.8 417 Q850 416.5 852.2 415.9 L861.8 413.6 Q864 413 865.6 411.4 L866.2 410.9 Q867.8 409.3 866.2 407.7 L865.6 407.1 Q864 405.5 861.9 404.5 L835 391 Q833 390 832 388 L832 388 Q831 386 832.6 384.4 L835 382" stroke-width="7.4" stroke-linecap="round"/>
<path d="M759 392.2 L790.9 407 Q793 408 794.9 409.3 L809.1 419.7 Q811 421 813.2 421.6 L818.8 422.9 Q821 423.5 823.2 423 L847.8 417 Q850 416.5 852.2 415.9 L861.8 413.6 Q864 413 865.6 411.4 L866.2 410.9 Q867.8 409.3 866.2 407.7 L865.6 407.1 Q864 405.5 861.9 404.5 L835 391 Q833 390 832 388 L832 388 Q831 386 832.6 384.4 L835 382" stroke-width="2.3" stroke-linecap="round" style="stroke:#fff"/>
<path d="M846 381 L849.8 380.1 Q852 379.5 854.3 379.3 L861.7 378.7 Q864 378.5 866 379.6 L893 394.9 Q895 396 897.3 396.4 L907.7 398.1 Q910 398.5 912.2 397.9 L920.5 395.6 Q922.5 395 923.1 393 L923.1 393 Q923.8 391 922 390 L893 373.6 Q891 372.5 889.6 370.7 L888 368.7 Q887 367.5 887.5 366 L887.5 366 Q888 364.5 889.4 363.7 L894 361" stroke-width="7.4" stroke-linecap="round"/>
<path d="M846 381 L849.8 380.1 Q852 379.5 854.3 379.3 L861.7 378.7 Q864 378.5 866 379.6 L893 394.9 Q895 396 897.3 396.4 L907.7 398.1 Q910 398.5 912.2 397.9 L920.5 395.6 Q922.5 395 923.1 393 L923.1 393 Q923.8 391 922 390 L893 373.6 Q891 372.5 889.6 370.7 L888 368.7 Q887 367.5 887.5 366 L887.5 366 Q888 364.5 889.4 363.7 L894 361" stroke-width="2.3" stroke-linecap="round" style="stroke:#fff"/>
<path d="M900 365.5 L912.2 363.6 Q914.5 363.3 916.8 363.5 L921.7 363.8 Q924 364 926 365.1 L955.5 380.4 Q957.5 381.5 959.7 382.3 L960.8 382.7 Q963 383.5 965.3 383.1 L975.2 381.4 Q977.5 381 979.8 380.7 L982.7 380.3 Q985 380 986.9 378.6 L987.9 377.9 Q989.8 376.5 988 375 L986.8 374 Q985 372.5 983 371.4 L959.8 359 Q958 358 957.5 356 L957.5 356 Q957 354 958.6 352.7 L959.7 351.9 Q961.5 350.5 963.8 350.1 L976.2 347.9 Q978.5 347.5 980.8 347.8 L992 349" stroke-width="7.4" stroke-linecap="round"/>
<path d="M900 365.5 L912.2 363.6 Q914.5 363.3 916.8 363.5 L921.7 363.8 Q924 364 926 365.1 L955.5 380.4 Q957.5 381.5 959.7 382.3 L960.8 382.7 Q963 383.5 965.3 383.1 L975.2 381.4 Q977.5 381 979.8 380.7 L982.7 380.3 Q985 380 986.9 378.6 L987.9 377.9 Q989.8 376.5 988 375 L986.8 374 Q985 372.5 983 371.4 L959.8 359 Q958 358 957.5 356 L957.5 356 Q957 354 958.6 352.7 L959.7 351.9 Q961.5 350.5 963.8 350.1 L976.2 347.9 Q978.5 347.5 980.8 347.8 L992 349" stroke-width="2.3" stroke-linecap="round" style="stroke:#fff"/>
<path d="M1047 363.5 L1048 361.8 Q1049 360 1047.2 359.1 L1046.1 358.5 Q1044 357.5 1042 356.4 L1018.5 343.4 Q1017 342.5 1016.8 340.8 L1016.8 340.8 Q1016.5 339 1017.9 337.9 L1019.2 336.9 Q1021 335.5 1023.3 335.3 L1037.2 333.7 Q1039.5 333.5 1041.8 334 L1044.7 334.5 Q1047 335 1049 336.2 L1072 349.8 Q1074 351 1076.3 351.1 L1082.7 351.4 Q1085 351.5 1086.9 350.2 L1094.1 345.3 Q1096 344 1098 342.8 L1103 339.7 Q1105 338.5 1106.5 336.7 L1107.3 335.8 Q1108.8 334 1107.4 332.2 L1105.4 329.8 Q1104 328 1101.9 327.1 L1087.5 321" stroke-width="7.4" stroke-linecap="round"/>
<path d="M1047 363.5 L1048 361.8 Q1049 360 1047.2 359.1 L1046.1 358.5 Q1044 357.5 1042 356.4 L1018.5 343.4 Q1017 342.5 1016.8 340.8 L1016.8 340.8 Q1016.5 339 1017.9 337.9 L1019.2 336.9 Q1021 335.5 1023.3 335.3 L1037.2 333.7 Q1039.5 333.5 1041.8 334 L1044.7 334.5 Q1047 335 1049 336.2 L1072 349.8 Q1074 351 1076.3 351.1 L1082.7 351.4 Q1085 351.5 1086.9 350.2 L1094.1 345.3 Q1096 344 1098 342.8 L1103 339.7 Q1105 338.5 1106.5 336.7 L1107.3 335.8 Q1108.8 334 1107.4 332.2 L1105.4 329.8 Q1104 328 1101.9 327.1 L1087.5 321" stroke-width="2.3" stroke-linecap="round" style="stroke:#fff"/>
<path d="M1087.5 321 L1070 310.5" stroke-width="7.8" stroke-linecap="round"/>
<path d="M1087.5 321 L1070 310.5" stroke-width="4.6" stroke-linecap="round" style="stroke:#fff"/>
<path d="M830.5 435.5 L864.9 451.1 Q867 452 868.9 453.2 L885.6 463.8 Q887.5 465 889.6 465.9 L891.4 466.6 Q893.5 467.5 895.3 466 L895.9 465.5 Q897.7 464 897.6 461.7 L896.9 440.3 Q896.8 438 898.3 436.3 L899.5 434.9 Q901 433.2 903.3 433.3 L906.7 433.6 Q909 433.7 911 434.8 L935.5 448.9 Q937.5 450 939.8 450.2 L942.7 450.3 Q945 450.5 947.1 449.6 L951 447.9 Q953 447 955 446.1 L957 445.3" stroke-width="7.4" stroke-linecap="round"/>
<path d="M830.5 435.5 L864.9 451.1 Q867 452 868.9 453.2 L885.6 463.8 Q887.5 465 889.6 465.9 L891.4 466.6 Q893.5 467.5 895.3 466 L895.9 465.5 Q897.7 464 897.6 461.7 L896.9 440.3 Q896.8 438 898.3 436.3 L899.5 434.9 Q901 433.2 903.3 433.3 L906.7 433.6 Q909 433.7 911 434.8 L935.5 448.9 Q937.5 450 939.8 450.2 L942.7 450.3 Q945 450.5 947.1 449.6 L951 447.9 Q953 447 955 446.1 L957 445.3" stroke-width="2.3" stroke-linecap="round" style="stroke:#fff"/>
<path d="M960 445.5 L963.7 444.9 Q966 444.5 968.2 443.8 L971.5 442.6 Q973.3 442 972.6 440.2 L972.6 440.2 Q972 438.5 970.3 437.6 L945.5 424.6 Q943.6 423.6 942.8 421.6 L942.8 421.6 Q942 419.6 943.9 418.6 L946 417.6 Q948 416.5 950.3 416.2 L961.7 414.6 Q964 414.3 966.2 414.8 L968.8 415.5 Q971 416 973 417.1 L1008 435.5" stroke-width="7.4" stroke-linecap="round"/>
<path d="M960 445.5 L963.7 444.9 Q966 444.5 968.2 443.8 L971.5 442.6 Q973.3 442 972.6 440.2 L972.6 440.2 Q972 438.5 970.3 437.6 L945.5 424.6 Q943.6 423.6 942.8 421.6 L942.8 421.6 Q942 419.6 943.9 418.6 L946 417.6 Q948 416.5 950.3 416.2 L961.7 414.6 Q964 414.3 966.2 414.8 L968.8 415.5 Q971 416 973 417.1 L1008 435.5" stroke-width="2.3" stroke-linecap="round" style="stroke:#fff"/>
<path d="M1025.5 431 L1030.6 429.2 Q1032.8 428.5 1031.5 426.6 L1031.3 426.5 Q1030 424.6 1028 423.5 L1003.4 409.8 Q1002 409 1001.3 407.5 L1001.3 407.5 Q1000.6 406 1001.5 404.6 L1002.5 403 Q1003.7 401 1006 400.7 L1023.2 398.3 Q1025.5 398 1027.8 398.4 L1032.7 399.2 Q1035 399.6 1037 400.8 L1061 415.6 Q1063 416.8 1065.3 417.1 L1073.2 418.1 Q1075.5 418.4 1077.7 417.8 L1084.5 415.9 Q1086.4 415.3 1087.1 413.4 L1087.1 413.4 Q1087.8 411.5 1086.1 410.5 L1058.8 394.6 Q1056.8 393.4 1056.1 391.2 L1055.9 390.9 Q1055.2 388.7 1057.3 387.9 L1060.9 386.4 Q1063 385.6 1065.3 385.4 L1071.7 384.8 Q1074 384.6 1076.2 384.1 L1081.2 382.8 Q1083.4 382.3 1085.7 382.6 L1092 383.5 Q1094.3 383.8 1096.3 385 L1125 402.1 Q1127 403.3 1129.3 403.1 L1142 402 Q1144.3 401.8 1146.4 400.8 L1148.6 399.7 Q1150.7 398.7 1149.4 396.8 L1148.7 395.9 Q1147.4 394 1145.4 392.8 L1121.3 378.8 Q1119.3 377.6 1119.6 375.3 L1119.7 374.3 Q1120 372 1121.9 370.7 L1131.4 364.1 Q1133.3 362.8 1135.3 361.7 L1143.8 356.8 Q1145.8 355.7 1148 356.4 L1151.4 357.3 Q1153.6 358 1155.3 359.5 L1163.8 366.7" stroke-width="7.4" stroke-linecap="round"/>
<path d="M1025.5 431 L1030.6 429.2 Q1032.8 428.5 1031.5 426.6 L1031.3 426.5 Q1030 424.6 1028 423.5 L1003.4 409.8 Q1002 409 1001.3 407.5 L1001.3 407.5 Q1000.6 406 1001.5 404.6 L1002.5 403 Q1003.7 401 1006 400.7 L1023.2 398.3 Q1025.5 398 1027.8 398.4 L1032.7 399.2 Q1035 399.6 1037 400.8 L1061 415.6 Q1063 416.8 1065.3 417.1 L1073.2 418.1 Q1075.5 418.4 1077.7 417.8 L1084.5 415.9 Q1086.4 415.3 1087.1 413.4 L1087.1 413.4 Q1087.8 411.5 1086.1 410.5 L1058.8 394.6 Q1056.8 393.4 1056.1 391.2 L1055.9 390.9 Q1055.2 388.7 1057.3 387.9 L1060.9 386.4 Q1063 385.6 1065.3 385.4 L1071.7 384.8 Q1074 384.6 1076.2 384.1 L1081.2 382.8 Q1083.4 382.3 1085.7 382.6 L1092 383.5 Q1094.3 383.8 1096.3 385 L1125 402.1 Q1127 403.3 1129.3 403.1 L1142 402 Q1144.3 401.8 1146.4 400.8 L1148.6 399.7 Q1150.7 398.7 1149.4 396.8 L1148.7 395.9 Q1147.4 394 1145.4 392.8 L1121.3 378.8 Q1119.3 377.6 1119.6 375.3 L1119.7 374.3 Q1120 372 1121.9 370.7 L1131.4 364.1 Q1133.3 362.8 1135.3 361.7 L1143.8 356.8 Q1145.8 355.7 1148 356.4 L1151.4 357.3 Q1153.6 358 1155.3 359.5 L1163.8 366.7" stroke-width="2.3" stroke-linecap="round" style="stroke:#fff"/>
<path d="M1163.8 366.7 L1188 379" stroke-width="7.8" stroke-linecap="round"/>
<path d="M1163.8 366.7 L1188 379" stroke-width="4.6" stroke-linecap="round" style="stroke:#fff"/>
<path d="M1058 453.5 L1060.9 452 Q1063 451 1065.3 450.9 L1074.7 450.6 Q1077 450.5 1079 451.7 L1087.5 456.8 Q1089.5 458 1091.8 458.1 L1098.2 458.4 Q1100.5 458.5 1102.7 457.9 L1113.8 455.1 Q1116 454.5 1117 452.4 L1117.2 452.1 Q1118.2 450 1116.2 448.9 L1091.5 435.1 Q1089.5 434 1088.5 431.9 L1088 431.1 Q1087 429 1089.1 428 L1093.7 426 Q1095.8 425 1098.1 424.9 L1101.4 424.6 Q1103.7 424.5 1105.9 425.2 L1109.3 426.1 Q1111.5 426.8 1113.5 427.9 L1142 444.4 Q1144 445.5 1146.3 445.5 L1156 445.5" stroke-width="7.4" stroke-linecap="round"/>
<path d="M1058 453.5 L1060.9 452 Q1063 451 1065.3 450.9 L1074.7 450.6 Q1077 450.5 1079 451.7 L1087.5 456.8 Q1089.5 458 1091.8 458.1 L1098.2 458.4 Q1100.5 458.5 1102.7 457.9 L1113.8 455.1 Q1116 454.5 1117 452.4 L1117.2 452.1 Q1118.2 450 1116.2 448.9 L1091.5 435.1 Q1089.5 434 1088.5 431.9 L1088 431.1 Q1087 429 1089.1 428 L1093.7 426 Q1095.8 425 1098.1 424.9 L1101.4 424.6 Q1103.7 424.5 1105.9 425.2 L1109.3 426.1 Q1111.5 426.8 1113.5 427.9 L1142 444.4 Q1144 445.5 1146.3 445.5 L1156 445.5" stroke-width="2.3" stroke-linecap="round" style="stroke:#fff"/>
<path d="M907.3 477.6 L938.8 492.5 Q940.9 493.5 942.7 494.9 L956.2 505.1 Q958 506.5 960.2 507.2 L965.2 508.9 Q967.4 509.6 969.6 509 L996.4 502.4 Q998.6 501.8 1000.8 501.2 L1010.4 498.5 Q1012.6 497.9 1014.1 496.1 L1014.3 495.8 Q1015.8 494 1013.9 492.6 L1012.9 491.9 Q1011 490.5 1009 489.4 L985 477.1 Q983 476 982.2 473.8 L982.2 473.6 Q981.4 471.4 983.6 470.7 L987 469.7 Q989.2 469 991.5 468.6 L997 467.5" stroke-width="7.4" stroke-linecap="round"/>
<path d="M907.3 477.6 L938.8 492.5 Q940.9 493.5 942.7 494.9 L956.2 505.1 Q958 506.5 960.2 507.2 L965.2 508.9 Q967.4 509.6 969.6 509 L996.4 502.4 Q998.6 501.8 1000.8 501.2 L1010.4 498.5 Q1012.6 497.9 1014.1 496.1 L1014.3 495.8 Q1015.8 494 1013.9 492.6 L1012.9 491.9 Q1011 490.5 1009 489.4 L985 477.1 Q983 476 982.2 473.8 L982.2 473.6 Q981.4 471.4 983.6 470.7 L987 469.7 Q989.2 469 991.5 468.6 L997 467.5" stroke-width="2.3" stroke-linecap="round" style="stroke:#fff"/>
<path d="M997 467.5 L1002.6 465.7 Q1004.8 465 1007.1 465 L1013.5 465 Q1015.8 465 1017.8 466.2 L1041.9 480.3 Q1043.9 481.5 1046.2 482 L1052.5 483.3 Q1054.8 483.8 1057.1 483.4 L1068.4 481.1 Q1070.4 480.7 1071.3 478.9 L1071.3 478.9 Q1072.3 477 1070.5 476 L1044.1 461.4 Q1042.3 460.4 1041.5 458.4 L1041.5 458.4 Q1040.7 456.5 1042.7 455.9 L1046.3 454.7 Q1048.5 454 1050.8 453.9 L1057.9 453.4" stroke-width="7.4" stroke-linecap="round"/>
<path d="M997 467.5 L1002.6 465.7 Q1004.8 465 1007.1 465 L1013.5 465 Q1015.8 465 1017.8 466.2 L1041.9 480.3 Q1043.9 481.5 1046.2 482 L1052.5 483.3 Q1054.8 483.8 1057.1 483.4 L1068.4 481.1 Q1070.4 480.7 1071.3 478.9 L1071.3 478.9 Q1072.3 477 1070.5 476 L1044.1 461.4 Q1042.3 460.4 1041.5 458.4 L1041.5 458.4 Q1040.7 456.5 1042.7 455.9 L1046.3 454.7 Q1048.5 454 1050.8 453.9 L1057.9 453.4" stroke-width="2.3" stroke-linecap="round" style="stroke:#fff"/>
<path d="M1161.4 444.7 L1166.8 443.1 Q1169 442.4 1171.1 441.4 L1176.7 438.7 Q1178.8 437.7 1177.5 435.8 L1176.8 434.9 Q1175.5 433 1173.5 431.8 L1147.8 417 Q1145.8 415.8 1146.5 413.6 L1146.7 413.2 Q1147.4 411 1149.7 410.7 L1160.7 409.1 Q1163 408.8 1165.3 409 L1171.7 409.4 Q1174 409.6 1176 410.8 L1220.3 437.8 Q1222.3 439 1224.6 438.9 L1229.4 438.6 Q1231.7 438.5 1233.5 437.1 L1242.2 430.4 Q1244 429 1245.9 427.7 L1255 421.7 Q1256.8 420.5 1255.9 418.6 L1255.9 418.6 Q1255 416.6 1253 415.8 L1234.8 408" stroke-width="7.4" stroke-linecap="round"/>
<path d="M1161.4 444.7 L1166.8 443.1 Q1169 442.4 1171.1 441.4 L1176.7 438.7 Q1178.8 437.7 1177.5 435.8 L1176.8 434.9 Q1175.5 433 1173.5 431.8 L1147.8 417 Q1145.8 415.8 1146.5 413.6 L1146.7 413.2 Q1147.4 411 1149.7 410.7 L1160.7 409.1 Q1163 408.8 1165.3 409 L1171.7 409.4 Q1174 409.6 1176 410.8 L1220.3 437.8 Q1222.3 439 1224.6 438.9 L1229.4 438.6 Q1231.7 438.5 1233.5 437.1 L1242.2 430.4 Q1244 429 1245.9 427.7 L1255 421.7 Q1256.8 420.5 1255.9 418.6 L1255.9 418.6 Q1255 416.6 1253 415.8 L1234.8 408" stroke-width="2.3" stroke-linecap="round" style="stroke:#fff"/>
<path d="M1234.8 408 L1217.6 395.5" stroke-width="7.8" stroke-linecap="round"/>
<path d="M1234.8 408 L1217.6 395.5" stroke-width="4.6" stroke-linecap="round" style="stroke:#fff"/>
<path d="M683 348.5 L715.9 365 Q718 366 719.9 367.3 L736.1 377.7 Q738 379 740.2 379.7 L744 381" stroke-width="8.8" stroke-linecap="round"/>
<path d="M683 348.5 L715.9 365 Q718 366 719.9 367.3 L736.1 377.7 Q738 379 740.2 379.7 L744 381" stroke-width="3.8" stroke-linecap="round" style="stroke:#fff"/>
<path d="M759 392.2 L790.9 407 Q793 408 794.9 409.3 L809.1 419.7 Q811 421 813.2 421.6 L818.8 422.9 Q821 423.5 823.2 423 L849 416.8" stroke-width="8.8" stroke-linecap="round"/>
<path d="M759 392.2 L790.9 407 Q793 408 794.9 409.3 L809.1 419.7 Q811 421 813.2 421.6 L818.8 422.9 Q821 423.5 823.2 423 L849 416.8" stroke-width="3.8" stroke-linecap="round" style="stroke:#fff"/>
<path d="M830.5 435.5 L864.9 451.1 Q867 452 868.9 453.2 L885.6 463.8 Q887.5 465 889.6 465.9 L892 467" stroke-width="8.8" stroke-linecap="round"/>
<path d="M830.5 435.5 L864.9 451.1 Q867 452 868.9 453.2 L885.6 463.8 Q887.5 465 889.6 465.9 L892 467" stroke-width="3.8" stroke-linecap="round" style="stroke:#fff"/>
<path d="M907.3 477.6 L938.8 492.5 Q940.9 493.5 942.7 494.9 L956.2 505.1 Q958 506.5 960.2 507.2 L965.2 508.9 Q967.4 509.6 969.6 509 L997 502.2" stroke-width="8.8" stroke-linecap="round"/>
<path d="M907.3 477.6 L938.8 492.5 Q940.9 493.5 942.7 494.9 L956.2 505.1 Q958 506.5 960.2 507.2 L965.2 508.9 Q967.4 509.6 969.6 509 L997 502.2" stroke-width="3.8" stroke-linecap="round" style="stroke:#fff"/>
<path d="M1015.2 281.5 L1019.8 283.5" stroke-width="10.5" stroke-linecap="butt"/>
<path d="M1015.2 281.5 L1019.8 283.5" stroke-width="7" stroke-linecap="butt" style="stroke:#fff"/>
<path d="M1089.6 322.3 L1085.4 319.7" stroke-width="10.5" stroke-linecap="butt"/>
<path d="M1089.6 322.3 L1085.4 319.7" stroke-width="7" stroke-linecap="butt" style="stroke:#fff"/>
<path d="M1161.6 365.6 L1166 367.8" stroke-width="10.5" stroke-linecap="butt"/>
<path d="M1161.6 365.6 L1166 367.8" stroke-width="7" stroke-linecap="butt" style="stroke:#fff"/>
<path d="M1236.8 409.5 L1232.8 406.5" stroke-width="10.5" stroke-linecap="butt"/>
<path d="M1236.8 409.5 L1232.8 406.5" stroke-width="7" stroke-linecap="butt" style="stroke:#fff"/>
<path d="M748.1 357 L748.6 376" stroke-width="8.4" stroke-linecap="butt"/>
<path d="M748.1 357 L748.6 376" stroke-width="5.2" stroke-linecap="butt" style="stroke:#fff"/>
<path d="M896.9 444.5 L897.6 463.5" stroke-width="8.4" stroke-linecap="butt"/>
<path d="M896.9 444.5 L897.6 463.5" stroke-width="5.2" stroke-linecap="butt" style="stroke:#fff"/>
<path d="M714.8 361.4 L717.5 359.7 720.2 361 721.2 363.8" stroke-width="1.8" style="fill:none"/>
<path d="M789.8 403.4 L792.5 401.7 795.2 403 796.2 405.8" stroke-width="1.8" style="fill:none"/>
<path d="M863.8 447.4 L866.5 445.7 869.2 447 870.2 449.8" stroke-width="1.8" style="fill:none"/>
<path d="M937.3 488.7 L940 487 942.7 488.3 943.7 491.1" stroke-width="1.8" style="fill:none"/>
<path d="M803.2 369.5 L808 366.5 820.2 363.2 837.8 361.7 852 369.5 852 374.6 843.5 377.5 833 379.8 825.2 382 816.4 381.2 803.5 372.7 Z" stroke-width="2.4" style="fill:#fff"/>
<path d="M806 370.8 L817.5 378.6 832 377.8 842 375.2" stroke-width="1.3" style="fill:none"/>
<path d="M814.2 370.2 L830.3 366.7 839.7 370.2 822 375.2 Z" stroke-width="2" style="fill:none"/>
<path d="M819 370.8 L830 368.3 834.5 370.2 823 373.2 Z" stroke-width="0.9" style="fill:none"/>
<path d="M843.5 374 L848.5 372.5 849 378 844 379.5 Z" stroke-width="1.5" style="fill:#000"/>
<path d="M809 364.8 L812.5 364.2 813 367.6 809.8 368.3 Z" stroke-width="1.2" style="fill:#000"/>
<path d="M951.5 455.7 L956.3 452.7 968.5 449.4 986.1 447.9 1000.3 455.7 1000.3 460.8 991.8 463.7 981.3 466 973.5 468.2 964.7 467.4 951.8 458.9 Z" stroke-width="2.4" style="fill:#fff"/>
<path d="M954.3 457 L965.8 464.8 980.3 464 990.3 461.4" stroke-width="1.3" style="fill:none"/>
<path d="M962.5 456.4 L978.6 452.9 988 456.4 970.3 461.4 Z" stroke-width="2" style="fill:none"/>
<path d="M967.3 457 L978.3 454.5 982.8 456.4 971.3 459.4 Z" stroke-width="0.9" style="fill:none"/>
<path d="M991.8 460.2 L996.8 458.7 997.3 464.2 992.3 465.7 Z" stroke-width="1.5" style="fill:#000"/>
<path d="M957.3 451 L960.8 450.4 961.3 453.8 958.1 454.5 Z" stroke-width="1.2" style="fill:#000"/>
<path d="M866 346.3 L873.3 344.5 898.9 354.9 906 362.5 898.7 364.3 873.1 353.9 Z" stroke-width="2.2" style="fill:#fff"/>
<path d="M874.9 347.3 L897.3 356.4 897.1 361.5 874.7 352.4 Z" stroke-width="1.6" style="fill:#000"/>
<path d="M878.2 350.5 L894.2 357" stroke-width="0.7" style="fill:none;stroke:#fff"/>
<path d="M878.4 352.5 L894.4 359" stroke-width="0.6" style="fill:none;stroke:#fff"/>
<path d="M865.6 349.5 L873.5 356.5 887.4 362.3 901.6 364.3" stroke-width="1.9" style="fill:none"/>
<path d="M969 331 L975.6 329.3 999.9 337.9 1007 344.5 1000.4 346.2 976.1 337.6 Z" stroke-width="2.2" style="fill:#fff"/>
<path d="M977.3 331.7 L998.6 339.3 998.7 343.8 977.4 336.2 Z" stroke-width="1.6" style="fill:#000"/>
<path d="M980.6 334.5 L995.8 339.9" stroke-width="0.7" style="fill:none;stroke:#fff"/>
<path d="M980.8 336.2 L996 341.6" stroke-width="0.6" style="fill:none;stroke:#fff"/>
<path d="M968.9 333.8 L976.6 339.7 989.8 344.7 1003 346.1" stroke-width="1.9" style="fill:none"/>
<path d="M942 390.5 L949.1 389 974.7 399.3 982 406.5 974.9 408 949.3 397.7 Z" stroke-width="2.2" style="fill:#fff"/>
<path d="M950.8 391.7 L973.2 400.6 973.2 405.3 950.8 396.4 Z" stroke-width="1.6" style="fill:#000"/>
<path d="M954.2 394.7 L970.2 401.1" stroke-width="0.7" style="fill:none;stroke:#fff"/>
<path d="M954.4 396.5 L970.4 402.9" stroke-width="0.6" style="fill:none;stroke:#fff"/>
<path d="M941.8 393.4 L949.8 400.1 963.7 405.9 977.7 408" stroke-width="1.9" style="fill:none"/>
<path d="M1016 434.5 L1023.2 433.1 1049.5 443.7 1057 451 1049.8 452.4 1023.5 441.8 Z" stroke-width="2.2" style="fill:#fff"/>
<path d="M1025 435.8 L1048 445 1048 449.7 1025 440.5 Z" stroke-width="1.6" style="fill:#000"/>
<path d="M1028.5 438.9 L1044.9 445.5" stroke-width="0.7" style="fill:none;stroke:#fff"/>
<path d="M1028.7 440.7 L1045.1 447.3" stroke-width="0.6" style="fill:none;stroke:#fff"/>
<path d="M1015.8 437.4 L1024 444.2 1038.3 450.2 1052.6 452.5" stroke-width="1.9" style="fill:none"/>
<path d="M1097 405.5 L1104 403.9 1129.6 413.9 1137 421 1130 422.6 1104.4 412.6 Z" stroke-width="2.2" style="fill:#fff"/>
<path d="M1105.8 406.5 L1128.2 415.2 1128.2 420 1105.8 411.3 Z" stroke-width="1.6" style="fill:#000"/>
<path d="M1109.2 409.6 L1125.2 415.8" stroke-width="0.7" style="fill:none;stroke:#fff"/>
<path d="M1109.4 411.4 L1125.4 417.6" stroke-width="0.6" style="fill:none;stroke:#fff"/>
<path d="M1096.8 408.4 L1104.8 415 1118.8 420.6 1132.7 422.6" stroke-width="1.9" style="fill:none"/>
<path d="M993.5 465.5 L999.5 464 1000.5 469 994.5 470.5 Z" stroke-width="1.3" style="fill:#fff"/>
<path d="M1054.5 451.5 L1060.5 450 1061.5 455 1055.5 456.5 Z" stroke-width="1.3" style="fill:#fff"/>
<path d="M1157.9 442.7 L1163.9 441.2 1164.9 446.2 1158.9 447.7 Z" stroke-width="1.3" style="fill:#fff"/>
<path d="M952.5 443.5 L958.5 442 959.5 447 953.5 448.5 Z" stroke-width="1.3" style="fill:#fff"/>
<path d="M806.5 357.5 L812.5 356 813.5 361 807.5 362.5 Z" stroke-width="1.3" style="fill:#fff"/>
<path d="M838.5 379 L844.5 377.5 845.5 382.5 839.5 384 Z" stroke-width="1.3" style="fill:#fff"/>
<ellipse cx="1052.3" cy="376" rx="19.5" ry="9.6" transform="rotate(8 1052.3 376)" stroke-width="2.2" style="fill:#fff"/>
<path d="M1033.5 379.5 C1034.6 380.7 1036.6 384.9 1040 386.5 C1043.4 388.1 1049.3 389.5 1054 389 C1058.7 388.5 1065.7 384.4 1068 383.5" stroke-width="1.8" style="fill:none"/>
<ellipse cx="1051" cy="376" rx="5" ry="2.8" transform="rotate(8 1051 376)" stroke-width="1.2" style="fill:#000"/>
<path d="M212.5 141.3 L213.5 146 216.5 150 223 150.8 231 142.8 240 142 272 118.7 273.3 112 269 107.7 260 108.7 245.6 113 237.5 120.6 230.6 120.6 213.7 137 Z" stroke-width="2.5" style="fill:none"/>
<path d="M215.5 139 L232 123 238.5 123 247 115.5 262 111" stroke-width="0.9" style="fill:none"/>
<ellipse cx="221.5" cy="143" rx="2.6" ry="3.6" transform="rotate(15 221.5 143)" stroke-width="2" style="fill:none"/>
<ellipse cx="247.2" cy="126.2" rx="2.8" ry="3.3" transform="rotate(20 247.2 126.2)" stroke-width="2" style="fill:none"/>
<path d="M254.3 117.5 L260.5 116 260.3 121 256.5 124.5 254.3 123.5 Z" stroke-width="1.3" style="fill:#000"/>
<ellipse cx="268" cy="114.7" rx="2.8" ry="3.4" transform="rotate(15 268 114.7)" stroke-width="2" style="fill:none"/>
<path d="M290.6 153.7 L291 158 293 161.3 299 162.6 311 153.2 312.5 148.7 345 126 346 118.7 341 115 332.5 116 320 120 310 129 292.5 147.5 Z" stroke-width="2.5" style="fill:none"/>
<path d="M310.6 130 L311.8 152.5" stroke-width="1.6" style="fill:none"/>
<path d="M294.5 149.5 L309 133.5" stroke-width="0.9" style="fill:none"/>
<path d="M313 131 L321.5 123 334 119" stroke-width="0.9" style="fill:none"/>
<ellipse cx="300.3" cy="153.8" rx="2.8" ry="3.6" transform="rotate(15 300.3 153.8)" stroke-width="2" style="fill:none"/>
<ellipse cx="320.2" cy="133.5" rx="2.8" ry="3.2" transform="rotate(20 320.2 133.5)" stroke-width="2" style="fill:none"/>
<path d="M327.3 125 L333 124 332.8 128.5 329.5 131.5 327.3 130.5 Z" stroke-width="1.3" style="fill:#000"/>
<ellipse cx="342" cy="122.5" rx="2.2" ry="3.4" transform="rotate(15 342 122.5)" stroke-width="2" style="fill:none"/>
<ellipse cx="384.4" cy="146" rx="14.5" ry="19.8" transform="rotate(-33 384.4 146)" stroke-width="2.4" style="fill:none"/>
<path d="M376.5 131.5 C378.1 132.2 383.3 133.4 386 135.5 C388.7 137.6 391.1 141.2 392.5 144 C393.9 146.8 394.3 149.1 394.5 152 C394.7 154.9 393.7 159.9 393.5 161.5" stroke-width="1" style="fill:none"/>
<path d="M391.5 129.5 C392.6 130.9 396.4 135 398 138 C399.6 141 400.5 145.9 401 147.5" stroke-width="1.6" style="fill:none"/>
<path d="M392 130 L404.5 123 409.5 122 414 124.5 417.5 131 417.5 139.4 401 148" stroke-width="2.4" style="fill:none"/>
<path d="M403.5 127 C404.2 128.2 406.7 131.2 407.5 134 C408.3 136.8 408.3 142.3 408.5 144" stroke-width="1" style="fill:none"/>
<path d="M407 124.5 C407.7 125.7 410.2 128.6 411 131.5 C411.8 134.4 411.8 140.2 412 142" stroke-width="1" style="fill:none"/>
<path d="M410.5 123 C411.2 124.2 413.8 127.1 414.5 130 C415.2 132.9 414.9 138.8 415 140.5" stroke-width="1" style="fill:none"/>
<path d="M372.5 144 L377.5 143.5 382.5 150 382.3 157.5 378.5 158.5 373.5 152 Z" stroke-width="2" style="fill:none"/>
<path d="M375.3 147 L377.5 146.8 380.2 150.8 380 155.5 378.3 155.8 375.8 152 Z" stroke-width="1" style="fill:none"/>
<path d="M125.8 420.3 L129.5 420 131.5 422 129.3 441 131 443.5 133.5 441 140 420.5 143.5 420.3 146 422 137.6 448.5" stroke-width="2.1" style="fill:none"/>
<path d="M125.8 420.3 L95.5 503" stroke-width="2.1" style="fill:none"/>
<path d="M127.3 423 L119.6 446.8" stroke-width="0.9" style="fill:none"/>
<path d="M141.5 423 L136 443" stroke-width="0.9" style="fill:none"/>
<path d="M119.3 447 L138 449.3" stroke-width="1.6" style="fill:none"/>
<path d="M122.5 449.8 L137.5 451.6" stroke-width="1.2" style="fill:none"/>
<path d="M137.5 449.5 C135.9 453.4 130.1 467.1 128 473 C125.9 478.9 125.2 480.7 124.8 485 C124.4 489.3 124 494.8 125.5 499 C127 503.2 130.2 507 134 510.5 C137.8 514 144.9 516.8 148 520 C151.1 523.2 152.4 525.7 152.8 530 C153.2 534.3 152.8 539.5 150.5 546 C148.2 552.5 143.8 561.7 138.7 569 C133.6 576.3 125.1 585.3 120 590 C114.9 594.7 112.1 595.9 108 597.4 C103.9 598.9 99.1 599.8 95.2 598.8 C91.3 597.8 87.8 594.9 84.7 591.5 C81.6 588.1 78.2 582.3 76.4 578.6 C74.6 574.9 74.4 571 74 569.5" stroke-width="2.1" style="fill:none"/>
<path d="M74 569.5 L56.5 560.5" stroke-width="2.1" style="fill:none"/>
<path d="M56.5 560.5 C56.7 557.2 56.4 548.6 57.6 541 C58.8 533.4 61.9 520.8 63.5 515 C65.2 509.2 66.8 507.5 67.5 506" stroke-width="2.1" style="fill:none"/>
<path d="M62.3 496.4 L64.5 495 77 505 77.8 509.5 75.5 510.5 62.5 501 62.3 496.4 Z" stroke-width="2.1" style="fill:none"/>
<path d="M68 498 L72.5 494.5 74.5 492.8 94 501 102.5 507" stroke-width="2.1" style="fill:none"/>
<path d="M73.5 496 L92 504" stroke-width="0.9" style="fill:none"/>
<path d="M123.4 450.5 C121.2 455.9 114.1 472.6 110 483 C105.9 493.4 102.6 502.6 98.8 513 C95 523.5 89.2 536.4 87 545.7 C84.8 555 84.7 562 85.5 569 C86.3 576 88.7 583.6 91.7 588 C94.7 592.4 101.5 594.2 103.5 595.5" stroke-width="0.9" style="fill:none"/>
<path d="M127 489.5 C127.3 492.1 127.5 500.8 129 505 C130.5 509.2 133.2 511.8 136 515 C138.8 518.2 143.6 521.6 146 524.5 C148.4 527.4 149.8 531.2 150.5 532.5" stroke-width="0.9" style="fill:none"/>
<path d="M189.2 461 C189.1 459.8 188.1 456.3 188.8 454 C189.5 451.7 190.8 448.8 193.5 447 C196.2 445.2 201.4 443.6 205.3 443 C209.2 442.4 215.1 443.4 217 443.5" stroke-width="2.1" style="fill:none"/>
<path d="M217 443.5 L271 472.9 287.5 475 292.2 475.2 295.3 481 292.2 512.8 285.2 515.2 264 521" stroke-width="2.1" style="fill:none"/>
<path d="M189.2 461 L200.5 506 211 538.7 244 557.5" stroke-width="2.1" style="fill:none"/>
<path d="M244 557.5 C247.3 551.4 259.3 530.2 264 521 C268.7 511.8 269.7 506.5 272 502 C274.3 497.5 275 496.2 278 494 C281 491.8 288 489.4 290 488.5" stroke-width="2.1" style="fill:none"/>
<path d="M190 453.5 C191 453.2 193.7 451.8 196 451.5 C198.3 451.2 202.7 451.9 204 452" stroke-width="1" style="fill:none"/>
<path d="M204 452 L275.8 494" stroke-width="1" style="fill:none"/>
<path d="M210 445.8 L282.8 489.5" stroke-width="1" style="fill:none"/>
<path d="M271 472.9 L292.2 475.2" stroke-width="2.8" style="fill:none"/>
<path d="M273.4 474.5 L289.9 484.6 291.5 487.5" stroke-width="1.8" style="fill:none"/>
<path d="M280 476 L291 483" stroke-width="1" style="fill:none"/>
<path d="M288 489.5 L285.5 514.5" stroke-width="0.9" style="fill:none"/>
<rect x="1069.5" y="719.5" width="207" height="150" stroke-width="1"/>
<path d="M1069.5 872.5 L1165.5 872.5" stroke-width="1" style="fill:none"/>
<path d="M1069.5 872.5 L1069.5 897" stroke-width="1" style="fill:none"/>
<path d="M1165.5 872.5 L1165.5 897" stroke-width="1" style="fill:none"/>
<path d="M1070 897 L1165 897" stroke-width="2" style="fill:none"/>
<text x="1073.6" y="891.2" font-size="18.2" style="fill:#000;stroke:#000;stroke-width:0.45px">00068962</text>
<path d="M1114.9 780.8 C1117.5 778.6 1126.1 771.4 1130.8 767.5 C1135.5 763.7 1137.3 761.6 1143.2 757.8 C1149.1 754 1158.2 749 1166.2 744.5 C1174.2 740 1186.9 733 1191 730.7" stroke-width="1.1" style="fill:none"/>
<path d="M1191 730.7 C1192.5 730.5 1196.9 730 1199.8 729.5 C1202.8 729 1205.7 728.6 1208.7 727.7 C1211.6 726.8 1214.6 725.2 1217.6 724.2 C1220.5 723.1 1224.9 721.9 1226.4 721.5" stroke-width="1.1" style="fill:none"/>
<path d="M1226.4 721.5 C1228.2 722.1 1232.3 722.8 1237 725 C1241.7 727.3 1249.5 731.4 1254.7 734.8 C1260 738.2 1265.8 743.2 1268.5 745.4 C1271.2 747.6 1270.7 746 1271 748.1 C1271.4 750.1 1270.1 755.3 1270.7 757.8 C1271.2 760.2 1274.1 761.1 1274.6 762.8 C1275 764.4 1273.5 766.7 1273.3 767.5" stroke-width="1.1" style="fill:none"/>
<path d="M1273.3 767.5 L1260 787.9" stroke-width="1.1" style="fill:none"/>
<path d="M1254.7 779 L1271.5 764.9" stroke-width="1.1" style="fill:none"/>
<path d="M1191 730.9 C1194.2 731.8 1205.5 734.1 1210.5 736.6 C1215.5 739 1218.1 742.7 1221.1 745.4 C1224 748.1 1227 751.3 1228.2 752.5" stroke-width="1.1" style="fill:none"/>
<path d="M1228.2 752.5 L1251.2 754.3 1268.9 746.3" stroke-width="1.1" style="fill:none"/>
<path d="M1208.7 727.7 C1212.2 728.9 1223.5 731.5 1229.9 734.8 C1236.4 738 1244 743.9 1247.6 747.2 C1251.3 750.4 1251.3 753.1 1252.1 754.3" stroke-width="1.1" style="fill:none"/>
<path d="M1143.2 757.8 C1145.9 759.6 1152.6 764.6 1159.1 768.4 C1165.6 772.3 1178.3 778.7 1182.1 780.8" stroke-width="1.1" style="fill:none"/>
<path d="M1114.9 780.8 C1115.2 781.7 1114 783.5 1116.6 786.1 C1119.3 788.8 1125.5 793.3 1130.8 796.7 C1136.1 800.1 1143.2 804.1 1148.5 806.5 C1153.8 808.8 1160.3 810.2 1162.7 810.9" stroke-width="1.1" style="fill:none"/>
<path d="M1173.3 803.8 C1173.9 802.1 1175.4 797 1176.8 793.2 C1178.3 789.4 1180.4 783.8 1182.1 780.8 C1183.9 777.9 1184.2 777.9 1187.5 775.5 C1190.7 773.1 1196.3 769.5 1201.6 766.6 C1206.9 763.8 1214 759.9 1219.3 758.7 C1224.6 757.5 1229.9 758.8 1233.5 759.6 C1237 760.3 1239.7 761.3 1240.6 763.1 C1241.4 764.9 1239.1 769 1238.8 770.2" stroke-width="1.1" style="fill:none"/>
<path d="M1238.8 770.2 L1183.9 803.8" stroke-width="1.1" style="fill:none"/>
<path d="M1114.9 781.7 C1112.5 783 1106 786 1100.7 789.7 C1095.4 793.3 1087.1 799.4 1083 803.8 C1078.9 808.2 1077.3 813.3 1075.9 816.2 C1074.6 819.2 1075.2 820.6 1075 821.5" stroke-width="1.1" style="fill:none"/>
<path d="M1113.1 786.1 C1110.2 789.1 1099.8 798.2 1095.4 803.8 C1091 809.4 1088.5 815 1086.6 819.8 C1084.6 824.5 1084.3 830.1 1083.9 832.1" stroke-width="1.1" style="fill:none"/>
<path d="M1104.3 841.9 C1108.7 840 1121.1 835.2 1130.8 830.4 C1140.5 825.6 1157.4 815.9 1162.7 813" stroke-width="1.1" style="fill:none"/>
<path d="M1122 844.5 C1124.9 842.5 1132.6 836.5 1139.7 832.1 C1146.7 827.8 1160.3 820.6 1164.4 818.3" stroke-width="1.1" style="fill:none"/>
<path d="M1075 818 C1074.6 818.9 1072.7 820.9 1072.4 823.3 C1072.1 825.7 1071.8 828.9 1073.3 832.1 C1074.8 835.4 1076.1 838.9 1081.2 842.8 C1086.4 846.6 1097.5 851.9 1104.3 855.2 C1111 858.4 1117.2 861.2 1122 862.2 C1126.7 863.3 1130.8 861.5 1132.6 861.4" stroke-width="1.1" style="fill:none"/>
<path d="M1075 820.6 L1083 826.8 1083.9 832.1" stroke-width="1.1" style="fill:none"/>
<path d="M1085.7 830.4 L1092.7 833.9 1092.7 839.2 1086.6 836.6 Z" stroke-width="1.1" style="fill:none"/>
<path d="M1094.5 834.8 L1102.5 838.3 1102.5 843.7 1094.5 841 Z" stroke-width="1.1" style="fill:none"/>
<path d="M1104.3 841.9 C1105.7 841.6 1109 842.9 1113.1 843.7 C1117.2 844.4 1126.2 845.5 1129 846.3 C1131.9 847.1 1130.3 847.8 1130.3 848.6 C1130.3 849.4 1130.7 850.6 1129 851.1 C1127.4 851.6 1124.3 852.6 1120.2 851.6 C1116.1 850.7 1106.9 847 1104.3 845.4 C1101.6 843.8 1102.8 842.2 1104.3 841.9 Z" stroke-width="1.1" style="fill:none"/>
<path d="M1129.9 849.8 L1137.9 848.1" stroke-width="1.1" style="fill:none"/>
<path d="M1137.9 848.1 C1139.1 846.5 1142 840.7 1145 838.3 C1147.9 836 1152.8 834.1 1155.6 833.9 C1158.4 833.8 1160.6 835.4 1161.8 837.5 C1163 839.5 1162.5 844.8 1162.7 846.3" stroke-width="1.1" style="fill:none"/>
<path d="M1162.7 846.3 C1162.1 848.1 1160.9 853.8 1159.1 856.9 C1157.4 860 1154.7 863.1 1152.1 864.9 C1149.4 866.7 1146 867.7 1143.2 867.6 C1140.4 867.4 1136.9 865.5 1135.2 864 C1133.6 862.5 1133 861.4 1133.5 858.7 C1133.9 856 1137.2 849.8 1137.9 848.1" stroke-width="1.1" style="fill:none"/>
<path d="M1163.6 846.3 L1228.2 809.1" stroke-width="1.1" style="fill:none"/>
<path d="M1229.9 808.2 C1230.4 806.3 1230.8 800.7 1232.6 796.7 C1234.4 792.8 1237.6 787.2 1240.6 784.3 C1243.5 781.5 1247.6 780.5 1250.3 779.9 C1253 779.3 1255.3 779.3 1256.5 780.8 C1257.7 782.3 1257.7 785.8 1257.4 788.8 C1257.1 791.7 1256.3 795.1 1254.7 798.5 C1253.1 801.9 1250.3 806.8 1247.6 809.1 C1245 811.5 1241.7 812.8 1238.8 812.7 C1235.8 812.5 1231.4 809 1229.9 808.2" stroke-width="1.1" style="fill:none"/>
<path d="M1183.9 803.8 L1186.6 806.5 1186 810.9" stroke-width="1.1" style="fill:none"/>
<path d="M1116.6 766.3 C1117.7 766.1 1121.4 769.3 1122 771.1 C1122.5 772.8 1121.2 776.8 1120.2 776.9 C1119.2 777.1 1116.4 773.7 1115.8 772 C1115.2 770.2 1115.6 766.4 1116.6 766.3 Z" stroke-width="1.1" style="fill:none"/>
<rect x="1279" y="895.5" width="1.2" height="1.2" style="fill:#000;stroke:none"/>
<circle cx="1174.7" cy="815.3" r="11.3" style="fill:#000;stroke:none"/>
<clipPath id="c1"><path d="M522 262H537.8V289H531.3V276.8H522Z"/></clipPath><g clip-path="url(#c1)">
<text transform="translate(533.0 286.7) scale(1.0 1)" font-size="29.6" font-weight="bold" text-anchor="middle" style="fill:#000;stroke:#000;stroke-width:0.3px">1</text>
</g>
<text transform="translate(848.6 289.6) scale(0.94 1)" font-size="32" font-weight="bold" text-anchor="middle" style="fill:#000;stroke:#000;stroke-width:0.3px">2</text>
<text transform="translate(165 303.7) scale(1.0 1)" font-size="31.8" font-weight="bold" text-anchor="middle" style="fill:#000;stroke:#000;stroke-width:0.3px">3</text>
<text transform="translate(312.4 295.8) scale(0.89 1)" font-size="31" font-weight="bold" text-anchor="middle" style="fill:#000;stroke:#000;stroke-width:0.3px">4</text>
<path d="M532.4 292 L532.4 332.5" stroke-width="1.4" style="fill:none"/>
<path d="M848 294 L848 337.5" stroke-width="1.8" style="fill:none"/>
<path d="M162.3 310.3 L162.3 380.8" stroke-width="1.3" style="fill:none"/>
<path d="M93.8 380.8 L239 380.8" stroke-width="2" style="fill:none"/>
<path d="M93.8 380.8 L93.8 494" stroke-width="1.3" style="fill:none"/>
<path d="M238.6 380.8 L238.6 449.8" stroke-width="1.3" style="fill:none"/>
<path d="M235.4 148.7 L235.4 233.9" stroke-width="1.3" style="fill:none"/>
<path d="M311.3 165 L311.3 260.5" stroke-width="1.3" style="fill:none"/>
<path d="M404.5 165 L404.5 233.9" stroke-width="1.3" style="fill:none"/>
<path d="M235.4 233.9 L404.5 233.9" stroke-width="2" style="fill:none"/>
</svg>
</body></html>
